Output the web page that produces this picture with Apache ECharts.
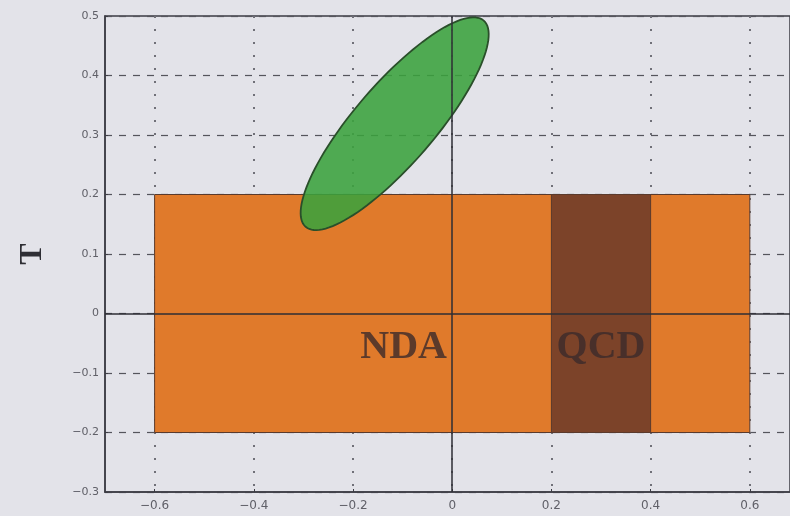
<!DOCTYPE html>
<html>
<head>
<meta charset="utf-8">
<script src="https://cdn.jsdelivr.net/npm/echarts@6/dist/echarts.min.js"></script>
<style>
  html, body { margin: 0; padding: 0; background: #e3e3e9; }
  #chart { width: 790px; height: 516px; }
</style>
</head>
<body>
<div id="chart"></div>
<script>
// axis ranges and ticks
const xRange = [-0.7, 0.681];
const yRange = [-0.3, 0.5];
const xTicks = [-0.6, -0.4, -0.2, 0, 0.2, 0.4, 0.6];
const yTickStep = 0.1;

// rectangles: [x0, x1, y0, y1]
const ndaBox = [-0.6, 0.6, -0.2, 0.2];
const qcdBox = [0.2, 0.4, -0.2, 0.2];

// region labels: [x, y, text]
const regionLabels = [
  [-0.098, -0.057, 'NDA'],
  [0.3, -0.057, 'QCD']
];

// green ellipse in data units: centre, half major vector, half minor vector
const ellipseCenter = [-0.116, 0.319];
const ellipseMajor = [0.1795, 0.1733];
const ellipseMinor = [0.061, -0.044];

const fmt = v => {
  if (Math.abs(v) < 1e-9) return '0';
  const s = Math.abs(v).toFixed(1);
  return v < 0 ? '\u2212' + s : s;
};

const chart = echarts.init(document.getElementById('chart'), null, { renderer: 'canvas' });

const rectRender = color => (params, api) => {
  const p0 = api.coord([api.value(0), api.value(3)]);
  const p1 = api.coord([api.value(1), api.value(2)]);
  return {
    type: 'rect',
    shape: { x: p0[0], y: p0[1], width: p1[0] - p0[0], height: p1[1] - p0[1] },
    style: { fill: color, stroke: '#5a3a2c', lineWidth: 1 }
  };
};

const option = {
  backgroundColor: '#e3e3e9',
  animation: false,
  grid: {
    left: 105,
    right: -2,
    top: 16,
    bottom: 24,
    show: true,
    borderColor: '#3c3c44',
    borderWidth: 1.5
  },
  xAxis: {
    type: 'value',
    min: xRange[0],
    max: xRange[1],
    axisLine: { show: true, onZero: false, lineStyle: { color: '#3c3c44', width: 1.5 } },
    axisTick: { show: true, inside: true, length: 3, customValues: xTicks, lineStyle: { color: '#3c3c44' } },
    axisLabel: {
      customValues: xTicks,
      formatter: fmt,
      color: '#606068',
      fontSize: 12,
      fontFamily: 'DejaVu Sans',
      margin: 8
    },
    splitLine: { show: true, lineStyle: { color: '#707078', type: [2, 11], width: 2 } }
  },
  yAxis: {
    type: 'value',
    min: yRange[0],
    max: yRange[1],
    interval: yTickStep,
    name: 'T',
    nameLocation: 'middle',
    nameRotate: 90,
    nameGap: 56,
    nameTextStyle: { fontFamily: 'Liberation Serif', fontWeight: 'bold', fontSize: 32, color: '#2e2e34' },
    axisLine: { show: true, onZero: false, lineStyle: { color: '#3c3c44', width: 1.5 } },
    axisTick: { show: true, inside: true, length: 3, lineStyle: { color: '#3c3c44' } },
    axisLabel: {
      formatter: fmt,
      color: '#606068',
      fontSize: 11,
      fontFamily: 'DejaVu Sans',
      margin: 6
    },
    splitLine: { show: true, lineStyle: { color: '#55555c', type: [7, 7], width: 1.2 } }
  },
  series: [
    {
      type: 'custom',
      z: 2,
      renderItem: rectRender('#e07a2b'),
      data: [ndaBox]
    },
    {
      type: 'custom',
      z: 3,
      renderItem: rectRender('#7c4329'),
      data: [qcdBox]
    },
    {
      type: 'custom',
      z: 4,
      renderItem: (params, api) => {
        const pts = [];
        for (let i = 0; i < 120; i++) {
          const t = (i / 120) * Math.PI * 2;
          const x = ellipseCenter[0] + Math.cos(t) * ellipseMajor[0] + Math.sin(t) * ellipseMinor[0];
          const y = ellipseCenter[1] + Math.cos(t) * ellipseMajor[1] + Math.sin(t) * ellipseMinor[1];
          pts.push(api.coord([x, y]));
        }
        return {
          type: 'polygon',
          shape: { points: pts },
          style: { fill: 'rgba(58, 162, 60, 0.88)', stroke: '#2a4f2a', lineWidth: 1.8 }
        };
      },
      data: [ellipseCenter]
    },
    {
      type: 'scatter',
      z: 6,
      symbolSize: 0,
      data: regionLabels,
      label: {
        show: true,
        position: 'inside',
        formatter: p => p.value[2],
        fontFamily: 'Liberation Serif',
        fontWeight: 'bold',
        fontSize: 40,
        color: '#3b2b2a'
      },
      markLine: {
        silent: true,
        symbol: 'none',
        label: { show: false },
        lineStyle: { color: '#2e2e34', type: 'solid', width: 1.5 },
        data: [{ xAxis: 0 }, { yAxis: 0 }]
      }
    }
  ]
};

chart.setOption(option);
</script>
</body>
</html>
